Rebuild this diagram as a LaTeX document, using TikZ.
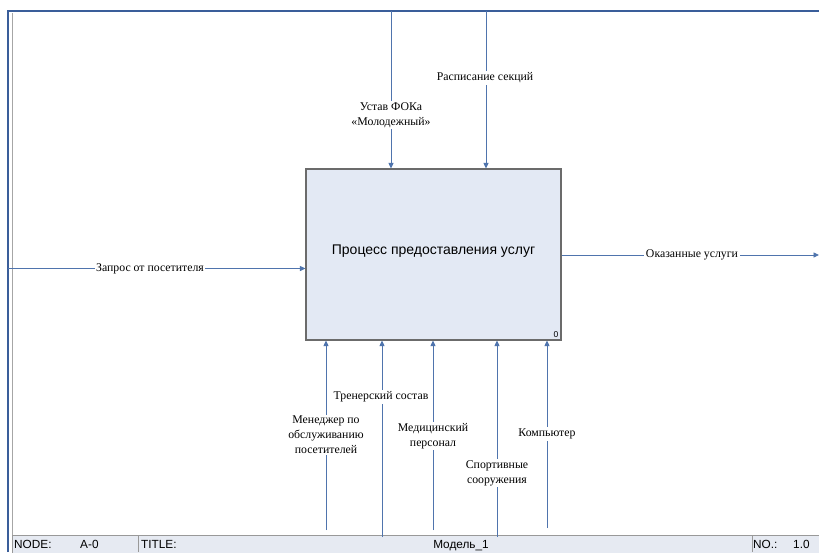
\documentclass[tikz,border=0pt]{standalone}
\usepackage{fontspec}
\setmainfont{Liberation Serif}
\newfontfamily\arialf{Liberation Sans}
\usetikzlibrary{arrows.meta}
\definecolor{arrowblue}{HTML}{4F74AD}
\definecolor{frameblue}{HTML}{3A5E9A}
\definecolor{boxfill}{HTML}{E3E9F4}
\definecolor{boxline}{HTML}{6B6B6B}
\definecolor{footfill}{HTML}{E6EAF2}
\tikzset{
  flow/.style={draw=arrowblue, line width=0.9pt, -{Triangle[length=5.5pt,width=5pt]}},
  lbl/.style={fill=white, inner sep=1.5pt, align=center, font=\fontsize{11.8}{15}\selectfont},
  foot/.style={inner sep=0pt, font=\arialf\fontsize{11.8}{12}\selectfont},
}
\begin{document}
\begin{tikzpicture}[x=1pt, y=-1pt]
\useasboundingbox (0,0) rectangle (819,552);
\fill[white] (0,0) rectangle (819,552);

% sheet frame
\draw[frameblue, line width=2pt] (8,552) -- (8,11) -- (819,11);
\draw[gray!70, line width=1pt] (12.5,552) -- (12.5,13);

% footer bar
\draw[fill=footfill, draw=gray!80, line width=0.8pt] (12.5,535) rectangle (820,553);
\draw[gray!80, line width=0.8pt] (138,535) -- (138,552);
\draw[gray!80, line width=0.8pt] (752,535) -- (752,552);
\node[foot, anchor=base west] (fnode) at (14,548.5) {NODE:};
\node[foot, anchor=base west] (fa0) at (80,548.5) {A-0};
\node[foot, anchor=base west] (ftitle) at (141,548.5) {TITLE:};
\node[foot, anchor=base] (fmodel) at (461,548.5) {Модель\_1};
\node[foot, anchor=base west] (fno) at (753,548.5) {NO.:};
\node[foot, anchor=base west] (fnum) at (793,548.5) {1.0};

% activity box
\node[draw=boxline, fill=boxfill, line width=1.1pt, minimum width=255pt, minimum height=171pt,
      inner sep=0pt] (box) at (433.5,254.5) {};
\node[font=\arialf\fontsize{14}{16}\selectfont] (boxtxt) at (433.5,251) {Процесс предоставления услуг};
\node[font=\arialf\fontsize{8.5}{9}\selectfont, anchor=south east, inner sep=0pt] (boxnum) at ([xshift=-3pt,yshift=3pt]box.south east) {0};

% free ends of the arrows
\coordinate (ctl1) at (391,11);
\coordinate (ctl2) at (486,11);
\coordinate (inp) at (8,268.5);
\coordinate (outp) at (819,255);
\coordinate (mech1) at (326,530);
\coordinate (mech2) at (382,537);
\coordinate (mech3) at (433,530);
\coordinate (mech4) at (497,537);
\coordinate (mech5) at (547,528);

% controls
\draw[flow] (ctl1) -- (ctl1 |- box.north);
\draw[flow] (ctl2) -- (ctl2 |- box.north);
% input
\draw[flow] (inp) -- (inp -| box.west);
% output
\draw[flow] (box.east |- outp) -- (outp);
% mechanisms
\draw[flow] (mech1) -- (mech1 |- box.south);
\draw[flow] (mech2) -- (mech2 |- box.south);
\draw[flow] (mech3) -- (mech3 |- box.south);
\draw[flow] (mech4) -- (mech4 |- box.south);
\draw[flow] (mech5) -- (mech5 |- box.south);

% arrow labels
\node[lbl] (lctl1) at (391,115) {Устав ФОКа\\«Молодежный»};
\node[lbl] (lctl2) at (485,78) {Расписание секций};
\node[lbl] (linp) at (150,268.5) {Запрос от посетителя};
\node[lbl] (loutp) at (692,255) {Оказанные услуги};
\node[lbl] (lmech1) at (326,435) {Менеджер по\\обслуживанию\\посетителей};
\node[lbl] (lmech2) at (381,397) {Тренерский состав};
\node[lbl] (lmech3) at (433,436) {Медицинский\\персонал};
\node[lbl] (lmech4) at (497,473) {Спортивные\\сооружения};
\node[lbl] (lmech5) at (547,434) {Компьютер};
\end{tikzpicture}
\end{document}
